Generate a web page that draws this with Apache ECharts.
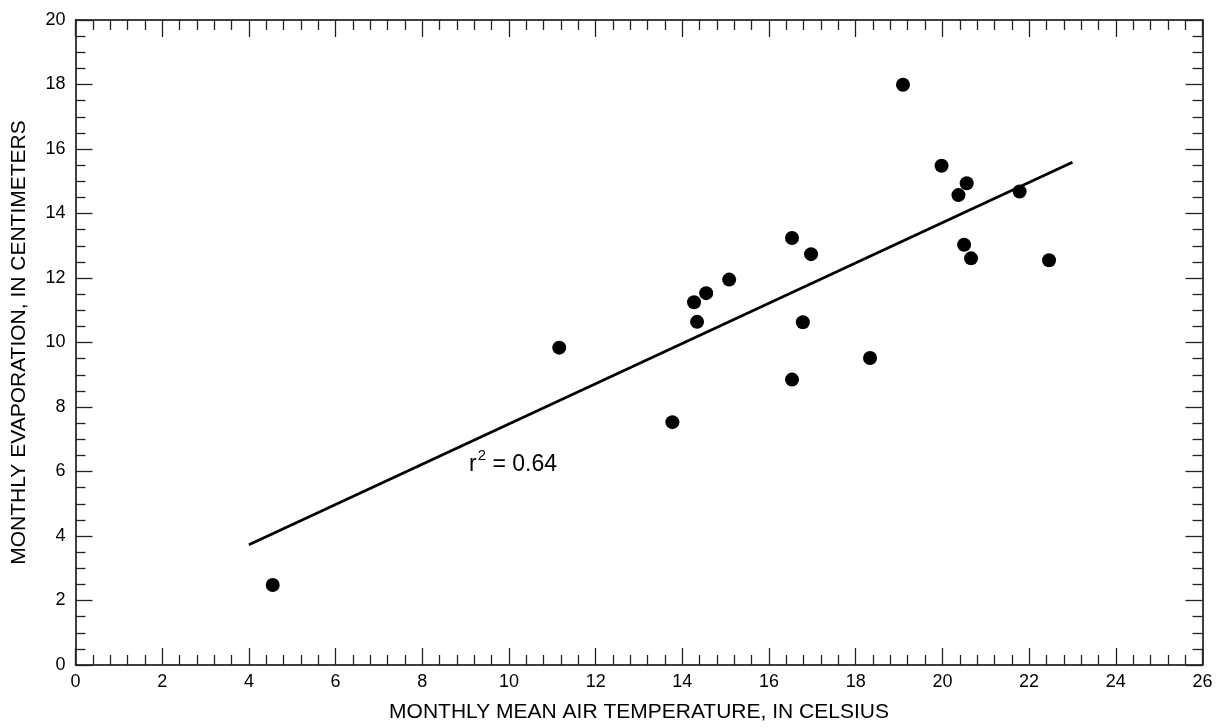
<!DOCTYPE html>
<html>
<head>
<meta charset="utf-8">
<script src="https://cdn.jsdelivr.net/npm/echarts@6/dist/echarts.min.js"></script>
<style>
html,body{margin:0;padding:0;background:#fff;}
#chart{width:1225px;height:728px;}
</style>
</head>
<body>
<div id="chart"></div>
<script>
// Observed data: monthly mean air temperature (C) vs monthly evaporation (cm)
const temperature = [4.55, 11.16, 13.77, 14.27, 14.34, 14.55, 15.08, 16.53, 16.53, 16.78, 16.97, 18.33, 19.09, 19.98, 20.37, 20.50, 20.56, 20.66, 21.78, 22.46];
const evaporation = [2.48, 9.84, 7.53, 11.25, 10.64, 11.53, 11.95, 13.24, 8.85, 10.63, 12.74, 9.52, 17.99, 15.48, 14.57, 13.03, 14.94, 12.61, 14.68, 12.55];
// Regression line end points
const fitX = [4.0, 23.0];
const fitY = [3.73, 15.59];
// Annotation
const annotationPos = [9.08, 6.29];
const xTicks = {min: 0, max: 26, interval: 2};
const yTicks = {min: 0, max: 20, interval: 2};

const points = temperature.map((t, i) => [t, evaporation[i]]);
const fitLine = fitX.map((x, i) => [x, fitY[i]]);

const font = "'Liberation Sans', Arial, Helvetica, sans-serif";
const axisLineStyle = {color: '#000', width: 1.5};
const tickStyle = {color: '#222', width: 1.3};

function xAxisDef(pos, showLabel) {
  return {
    type: 'value', position: pos, min: xTicks.min, max: xTicks.max, interval: xTicks.interval,
    axisLine: {show: true, onZero: false, lineStyle: axisLineStyle},
    axisTick: {show: true, inside: true, length: 17, lineStyle: tickStyle},
    minorTick: {show: true, splitNumber: 5, length: 10, lineStyle: tickStyle},
    splitLine: {show: false}, minorSplitLine: {show: false},
    axisLabel: {show: showLabel, color: '#000', fontFamily: font, fontSize: 18, margin: 8},
    name: showLabel ? 'MONTHLY MEAN AIR TEMPERATURE, IN CELSIUS' : '',
    nameLocation: 'middle', nameGap: 36.5,
    nameTextStyle: {color: '#000', fontFamily: font, fontSize: 21}
  };
}
function yAxisDef(pos, showLabel) {
  return {
    type: 'value', position: pos, min: yTicks.min, max: yTicks.max, interval: yTicks.interval,
    axisLine: {show: true, onZero: false, lineStyle: axisLineStyle},
    axisTick: {show: true, inside: true, length: 17, lineStyle: tickStyle},
    minorTick: {show: true, splitNumber: 4, length: 10, lineStyle: tickStyle},
    splitLine: {show: false}, minorSplitLine: {show: false},
    axisLabel: {show: showLabel, color: '#000', fontFamily: font, fontSize: 18, margin: 10},
    name: showLabel ? 'MONTHLY EVAPORATION, IN CENTIMETERS' : '',
    nameLocation: 'middle', nameGap: 46, nameRotate: 90,
    nameTextStyle: {color: '#000', fontFamily: font, fontSize: 21}
  };
}

const chart = echarts.init(document.getElementById('chart'), null, {renderer: 'canvas'});
chart.setOption({
  backgroundColor: '#fff',
  animation: false,
  grid: {left: 75.5, right: 22.5, top: 20, bottom: 63, containLabel: false},
  xAxis: [xAxisDef('bottom', true), xAxisDef('top', false)],
  yAxis: [yAxisDef('left', true), yAxisDef('right', false)],
  series: [
    {
      type: 'line', data: fitLine, xAxisIndex: 0, yAxisIndex: 0,
      symbol: 'none', lineStyle: {color: '#000', width: 2.8}, silent: true, z: 2
    },
    {
      type: 'scatter', data: points, xAxisIndex: 0, yAxisIndex: 0,
      symbol: 'circle', symbolSize: 14, itemStyle: {color: '#000', opacity: 1}, z: 3
    },
    {
      type: 'scatter', data: [annotationPos], symbolSize: 0, silent: true,
      itemStyle: {color: '#000', opacity: 1},
      label: {
        show: true, position: 'right', distance: 0, color: '#000', opacity: 1,
        formatter: '{r|r}{s|2}{r| = 0.64}',
        rich: {
          r: {fontFamily: font, fontSize: 23, color: '#000', lineHeight: 28, verticalAlign: 'bottom'},
          s: {fontFamily: font, fontSize: 15, color: '#000', lineHeight: 28, verticalAlign: 'top', padding: [0, 0, 0, 1]}
        }
      }
    }
  ]
});
</script>
</body>
</html>
